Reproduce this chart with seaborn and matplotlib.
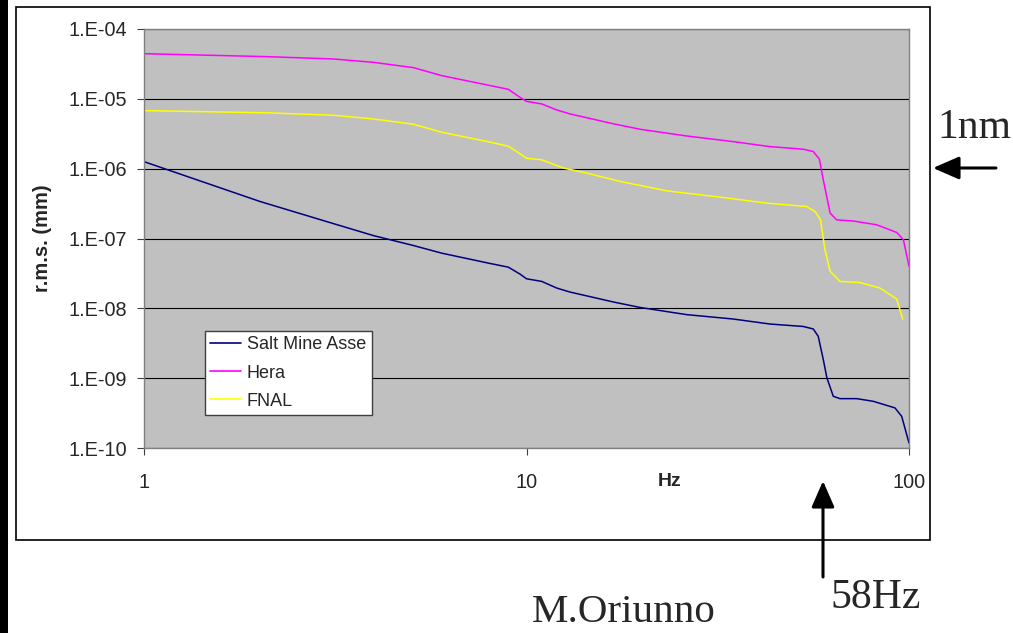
import numpy as np
import pandas as pd
import matplotlib
matplotlib.use("Agg")
import matplotlib.pyplot as plt
import seaborn as sns
from matplotlib.patches import Rectangle, FancyArrowPatch

# ---------------- data ----------------
salt_freq = [1, 2.01, 3.0, 3.98, 5.06, 6.0, 8.03, 8.96, 9.62, 10.0, 10.96, 12.0, 13.0,
             16.9, 19.8, 26.2, 34.7, 43.3, 52.9, 56.2, 57.9, 59.7, 61.0, 63.4, 66.0,
             73.0, 80.7, 91.9, 95.7, 100]
salt_rms = [1.26e-6, 3.39e-7, 1.75e-7, 1.10e-7, 7.94e-8, 6.17e-8, 4.39e-8, 3.89e-8, 3.09e-8,
            2.65e-8, 2.43e-8, 1.95e-8, 1.71e-8, 1.23e-8, 1.03e-8, 8.13e-9, 7.03e-9,
            5.96e-9, 5.50e-9, 5.06e-9, 3.98e-9, 1.84e-9, 1.01e-9, 5.5e-10, 5.09e-10,
            5.09e-10, 4.66e-10, 3.75e-10, 2.84e-10, 1.18e-10]

hera_freq = [1, 2.09, 3.13, 3.98, 5.06, 6.0, 8.03, 8.96, 9.62, 10.0, 10.96, 12.0, 13.0,
             16.9, 19.8, 26.2, 34.7, 43.3, 52.9, 56.2, 58.3, 59.7, 62.2, 64.7, 71.5,
             82.4, 92.9, 96.7, 100]
hera_rms = [4.43e-5, 4.02e-5, 3.72e-5, 3.33e-5, 2.80e-5, 2.15e-5, 1.55e-5, 1.37e-5, 1.05e-5,
            9.2e-6, 8.45e-6, 6.93e-6, 6.08e-6, 4.38e-6, 3.67e-6, 2.94e-6, 2.44e-6,
            2.07e-6, 1.90e-6, 1.76e-6, 1.37e-6, 6.9e-7, 2.31e-7, 1.85e-7, 1.78e-7,
            1.57e-7, 1.22e-7, 9.6e-8, 4.0e-8]

fnal_freq = [1, 2.09, 3.13, 3.98, 5.06, 6.0, 8.03, 8.96, 9.62, 10.0, 10.96, 12.5, 14.4,
             17.6, 23.3, 32.1, 42.5, 54.0, 56.8, 58.7, 60.3, 62.2, 66.0, 74.5, 84.0,
             92.9, 96.3]
fnal_rms = [6.78e-6, 6.31e-6, 5.82e-6, 5.15e-6, 4.33e-6, 3.33e-6, 2.40e-6, 2.10e-6, 1.63e-6,
            1.41e-6, 1.34e-6, 1.02e-6, 8.63e-7, 6.55e-7, 4.81e-7, 3.91e-7, 3.21e-7,
            2.87e-7, 2.43e-7, 1.85e-7, 6.92e-8, 3.39e-8, 2.43e-8, 2.34e-8, 1.95e-8,
            1.36e-8, 7.0e-9]

series_names = ["Salt Mine Asse", "Hera", "FNAL"]
series_colors = ["#000080", "#FF00FF", "#FFFF00"]

ytick_values = [1e-10, 1e-9, 1e-8, 1e-7, 1e-6, 1e-5, 1e-4]
ytick_labels = ["1.E-10", "1.E-09", "1.E-08", "1.E-07", "1.E-06", "1.E-05", "1.E-04"]
xtick_values = [1, 10, 100]
xtick_labels = ["1", "10", "100"]

# ---------------- build table ----------------
df = pd.concat([
    pd.DataFrame({"Hz": salt_freq, "rms": salt_rms, "series": series_names[0]}),
    pd.DataFrame({"Hz": hera_freq, "rms": hera_rms, "series": series_names[1]}),
    pd.DataFrame({"Hz": fnal_freq, "rms": fnal_rms, "series": series_names[2]}),
], ignore_index=True)

sns.set_style("white")
plt.rcParams["font.family"] = ["Liberation Sans", "DejaVu Sans"]

W, H = 1013, 633
fig = plt.figure(figsize=(W / 100, H / 100), dpi=100)
fig.patch.set_facecolor("white")

# black strip at the left edge and chart frame
fig.add_artist(Rectangle((0, 0), 8 / W, 1, transform=fig.transFigure,
                         facecolor="black", edgecolor="none", zorder=0))
fig.add_artist(Rectangle((16 / W, 1 - 540 / H), (930 - 16) / W, (540 - 7) / H,
                         transform=fig.transFigure, facecolor="white",
                         edgecolor="black", linewidth=1.2, zorder=0))

ax = fig.add_axes([144 / W, 1 - 448 / H, (909 - 144) / W, (448 - 29) / H])
ax.set_facecolor("#C0C0C0")

sns.lineplot(data=df, x="Hz", y="rms", hue="series", hue_order=series_names,
             palette=dict(zip(series_names, series_colors)), sort=False,
             estimator=None, linewidth=1.1, ax=ax)

ax.set_xscale("log")
ax.set_yscale("log")
ax.set_xlim(1, 100)
ax.set_ylim(1e-10, 1e-4)
ax.set_yticks(ytick_values)
ax.set_yticklabels(ytick_labels)
ax.set_xticks(xtick_values)
ax.set_xticklabels(xtick_labels)
ax.minorticks_off()
ax.yaxis.grid(True, color="black", linewidth=0.8)
ax.xaxis.grid(False)
ax.set_axisbelow(True)

for s in ax.spines.values():
    s.set_color("#808080")
    s.set_linewidth(1.0)
ax.tick_params(axis="y", direction="out", length=5, width=0.8, color="#404040",
               pad=7, labelsize=14.3, left=True)
ax.tick_params(axis="x", direction="out", length=5, width=0.8, color="#404040",
               pad=13, labelsize=14.3, bottom=True)

ax.set_xlabel("Hz", fontsize=14, fontweight="bold")
ax.xaxis.set_label_coords((670 - 144) / 765, -(481 - 448) / 419)
ax.xaxis.label.set_va("center")
ax.set_ylabel("r.m.s. (mm)", fontsize=14.5, fontweight="bold")
ax.yaxis.set_label_coords((43 - 144) / 765, 0.5)
ax.yaxis.label.set_va("center")

leg = ax.legend(title=None, loc="upper left",
                bbox_to_anchor=((204.5 - 144) / 765, (448 - 331) / 419),
                frameon=True, fancybox=False, fontsize=13, handlelength=1.7,
                handletextpad=0.35, borderpad=0.3, labelspacing=0.62,
                borderaxespad=0)
leg.get_frame().set_edgecolor("#404040")
leg.get_frame().set_facecolor("white")
leg.get_frame().set_linewidth(1.0)
leg.get_frame().set_alpha(1)
for ln in leg.get_lines():
    ln.set_linewidth(1.2)

# annotations
serif = ["Liberation Serif", "DejaVu Serif"]
fig.text(937 / W, 1 - 138 / H, "1nm", family=serif, fontsize=30, ha="left", va="baseline")
fig.text(830 / W, 1 - 608 / H, "58Hz", family=serif, fontsize=30, ha="left", va="baseline")
fig.text(532 / W, 1 - 622 / H, "M.Oriunno", family=serif, fontsize=29.5, ha="left", va="baseline")

arrow = dict(arrowstyle="-|>,head_length=0.8,head_width=0.35", color="black",
             lw=2.2, mutation_scale=20, shrinkA=0, shrinkB=0)
fig.add_artist(FancyArrowPatch(
    (996 / W, 1 - 168 / H), (933 / W, 1 - 168 / H), transform=fig.transFigure, **arrow))
fig.add_artist(FancyArrowPatch(
    (823 / W, 1 - 577 / H), (823 / W, 1 - 481 / H), transform=fig.transFigure, **arrow))

fig.savefig("out.png", dpi=100)
